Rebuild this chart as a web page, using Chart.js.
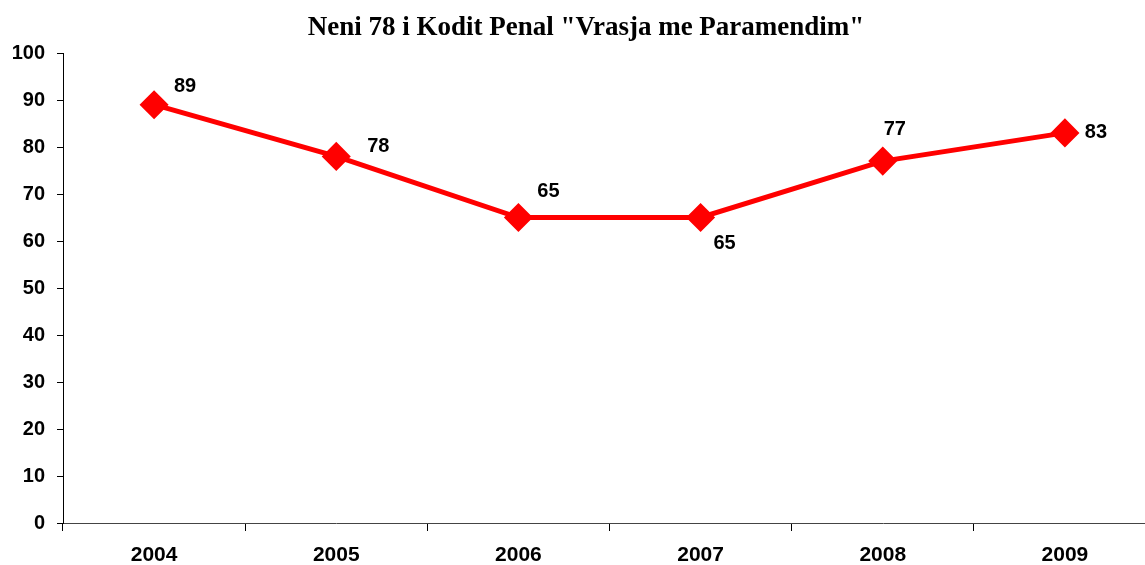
<!DOCTYPE html>
<html lang="sq">
<head>
    <meta charset="UTF-8">
    <title>Neni 78 i Kodit Penal</title>
    <script src="https://cdn.jsdelivr.net/npm/chart.js"></script>
    <style>
        body {
            margin: 0;
            padding: 0;
            overflow: hidden;
            background-color: #ffffff;
        }

        canvas {
            display: block;
        }
    </style>
</head>
<body>
    <canvas id="vrasjaChart" width="1172" height="565"></canvas>

    <script>
        // Të dhënat
        const years = ['2004', '2005', '2006', '2007', '2008', '2009'];
        const cases = [89, 78, 65, 65, 77, 83];
        const yTicks = [0, 10, 20, 30, 40, 50, 60, 70, 80, 90, 100];

        // zhvendosja e etiketave nga pika (px)
        const labelOffsets = [[31, -18], [42, -10], [30, -26], [24, 26], [12, -32], [31, 0]];

        const valueLabels = {
            id: 'valueLabels',
            afterDatasetsDraw(chart) {
                const ctx = chart.ctx;
                const meta = chart.getDatasetMeta(0);
                ctx.save();
                ctx.font = 'bold 20px "Liberation Sans", Arial, sans-serif';
                ctx.fillStyle = '#000';
                ctx.textAlign = 'center';
                ctx.textBaseline = 'middle';
                meta.data.forEach((pt, i) => {
                    const off = labelOffsets[i];
                    ctx.fillText(cases[i], pt.x + off[0], pt.y + off[1]);
                });
                ctx.restore();
            }
        };

        const ctx = document.getElementById('vrasjaChart').getContext('2d');
        new Chart(ctx, {
            type: 'line',
            data: {
                labels: years,
                datasets: [{
                    data: cases,
                    borderColor: '#ff0000',
                    backgroundColor: '#ff0000',
                    borderWidth: 5,
                    pointStyle: 'rectRot',
                    pointRadius: 11,
                    pointHoverRadius: 11,
                    tension: 0
                }]
            },
            options: {
                responsive: false,
                animation: false,
                layout: { padding: 0 },
                plugins: {
                    legend: { display: false },
                    tooltip: { enabled: false },
                    title: {
                        display: true,
                        text: 'Neni 78 i Kodit Penal "Vrasja me Paramendim"',
                        color: '#000',
                        font: { family: '"Liberation Serif", "Times New Roman", serif', size: 27, weight: 'bold', lineHeight: 1.2 },
                        padding: { top: 12, bottom: 8.6 }
                    }
                },
                scales: {
                    x: {
                        offset: true,
                        grid: {
                            offset: true,
                            drawOnChartArea: false,
                            tickLength: 8,
                            color: '#000'
                        },
                        border: { color: '#444', width: 1 },
                        ticks: {
                            color: '#000',
                            padding: 12,
                            maxRotation: 0,
                            font: { family: '"Liberation Sans", Arial, sans-serif', size: 21, weight: 'bold' }
                        },
                        afterFit(scale) { scale.height = 42; }
                    },
                    y: {
                        min: 0,
                        max: 100,
                        afterBuildTicks(scale) {
                            scale.ticks = yTicks.map(v => ({ value: v }));
                        },
                        grid: {
                            drawOnChartArea: false,
                            tickLength: 6,
                            color: '#000'
                        },
                        border: { color: '#000', width: 1 },
                        ticks: {
                            color: '#000',
                            padding: 12,
                            font: { family: '"Liberation Sans", Arial, sans-serif', size: 20, weight: 'bold' }
                        },
                        afterFit(scale) { scale.width = 63; }
                    }
                }
            },
            plugins: [valueLabels]
        });
    </script>
</body>
</html>
